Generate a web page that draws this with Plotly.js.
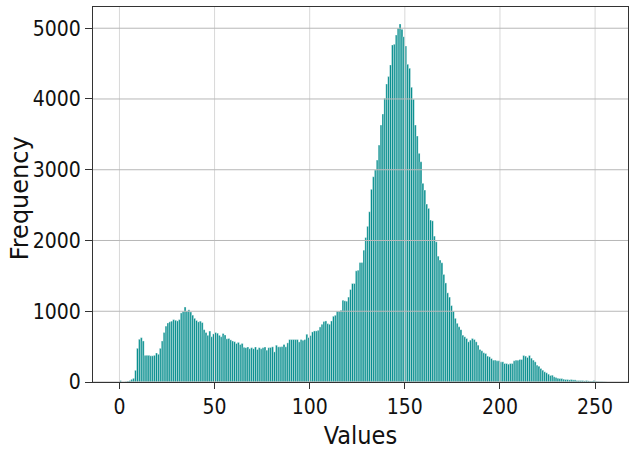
<!DOCTYPE html>
<html>
<head>
<meta charset="utf-8">
<script src="https://cdn.plot.ly/plotly-3.0.1.min.js"></script>
<style>html,body{margin:0;padding:0;background:#fff;}#chart{width:633px;height:453px;}</style>
</head>
<body>
<div id="chart"></div>
<script>
// Frequency of each pixel value 0..255
const frequencies = [
  20, 0, 0, 5, 14, 20, 38, 52, 165, 476,
  604, 627, 580, 377, 377, 377, 370, 370, 377, 410,
  392, 476, 580, 700, 790, 835, 850, 860, 882, 873,
  864, 882, 976, 1000, 1060, 1005, 1020, 990, 945, 900,
  870, 850, 860, 840, 740, 700, 660, 720, 640, 680,
  700, 690, 660, 640, 685, 665, 610, 615, 595, 580,
  570, 545, 560, 530, 545, 490, 485, 495, 470, 485,
  470, 495, 460, 485, 470, 485, 495, 450, 485, 488,
  497, 426, 520, 497, 497, 500, 530, 497, 553, 600,
  600, 600, 600, 600, 567, 600, 590, 600, 675, 628,
  656, 708, 722, 722, 731, 778, 816, 854, 863, 825,
  816, 863, 929, 943, 1000, 1000, 1014, 1156, 1147, 1142,
  1200, 1307, 1392, 1392, 1571, 1580, 1688, 1688, 1863, 2042,
  2200, 2406, 2723, 2901, 2996, 3137, 3349, 3632, 3788, 4010,
  4212, 4316, 4481, 4764, 4774, 4905, 5000, 5061, 4986, 4881,
  4750, 4491, 4434, 4165, 3996, 3632, 3477, 3232, 3113, 2808,
  2713, 2515, 2454, 2289, 2278, 2062, 1982, 1779, 1723, 1685,
  1520, 1400, 1260, 1200, 1080, 1000, 900, 830, 780, 740,
  662, 639, 615, 568, 592, 615, 601, 568, 521, 460,
  441, 413, 403, 366, 356, 332, 309, 309, 300, 300,
  285, 285, 261, 261, 252, 261, 261, 300, 309, 309,
  318, 318, 375, 366, 347, 375, 337, 309, 285, 238,
  224, 191, 167, 144, 130, 111, 92, 96, 73, 63,
  54, 49, 49, 40, 35, 35, 30, 35, 30, 30,
  21, 21, 21, 21, 16, 21, 16, 12, 12, 21,
  12, 8, 5, 5, 3, 2
];
const binStarts = frequencies.map((_, i) => i);
const xTicks = [0, 50, 100, 150, 200, 250];
const yTicks = [0, 1000, 2000, 3000, 4000, 5000];
const xTitle = 'Values';
const yTitle = 'Frequency';

const narrow = 'DejaVu Sans Condensed, Liberation Sans Narrow, sans-serif';
const tickFont = {family: narrow, size: 21, color: '#111'};

const trace = {
  type: 'bar',
  x: binStarts,
  y: frequencies,
  offset: 0,
  width: 1,
  marker: {color: '#008b8b', line: {color: '#ffffff', width: 0.4}},
  hoverinfo: 'x+y'
};

const gridShapes = [];
xTicks.forEach(t => gridShapes.push({type: 'line', xref: 'x', yref: 'paper', x0: t, x1: t, y0: 0, y1: 1,
  line: {color: '#d8d8d8', width: 1}, layer: 'above'}));
yTicks.forEach(t => gridShapes.push({type: 'line', xref: 'paper', yref: 'y', x0: 0, x1: 1, y0: t, y1: t,
  line: {color: '#b8b8b8', width: 1}, layer: 'above'}));

const layout = {
  width: 633,
  height: 453,
  margin: {l: 93, r: 5, t: 7, b: 71},
  paper_bgcolor: '#ffffff',
  plot_bgcolor: '#ffffff',
  showlegend: false,
  bargap: 0,
  shapes: gridShapes,
  annotations: [{
    text: yTitle, textangle: -90, showarrow: false,
    xref: 'paper', yref: 'paper', x: -0.1364, y: 0.49, xanchor: 'center', yanchor: 'middle',
    font: {family: 'DejaVu Sans, sans-serif', size: 24, color: '#111'}
  }],
  xaxis: {
    range: [-13.9, 267.3],
    tickvals: xTicks,
    ticktext: xTicks.map(String),
    ticks: 'outside',
    ticklen: 6,
    tickcolor: '#333',
    ticklabelstandoff: 0,
    showgrid: false,
    zeroline: false,
    showline: true,
    mirror: true,
    linecolor: '#333',
    linewidth: 1,
    tickfont: tickFont,
    title: {text: xTitle, font: {family: narrow, size: 25, color: '#111'}, standoff: 8}
  },
  yaxis: {
    range: [0, 5300],
    tickvals: yTicks,
    ticktext: yTicks.map(String),
    ticks: 'outside',
    ticklen: 7,
    tickcolor: '#333',
    showgrid: false,
    zeroline: false,
    showline: true,
    mirror: true,
    linecolor: '#333',
    linewidth: 1,
    tickfont: tickFont
  }
};

Plotly.newPlot('chart', [trace], layout, {displayModeBar: false, staticPlot: true});
</script>
</body>
</html>
